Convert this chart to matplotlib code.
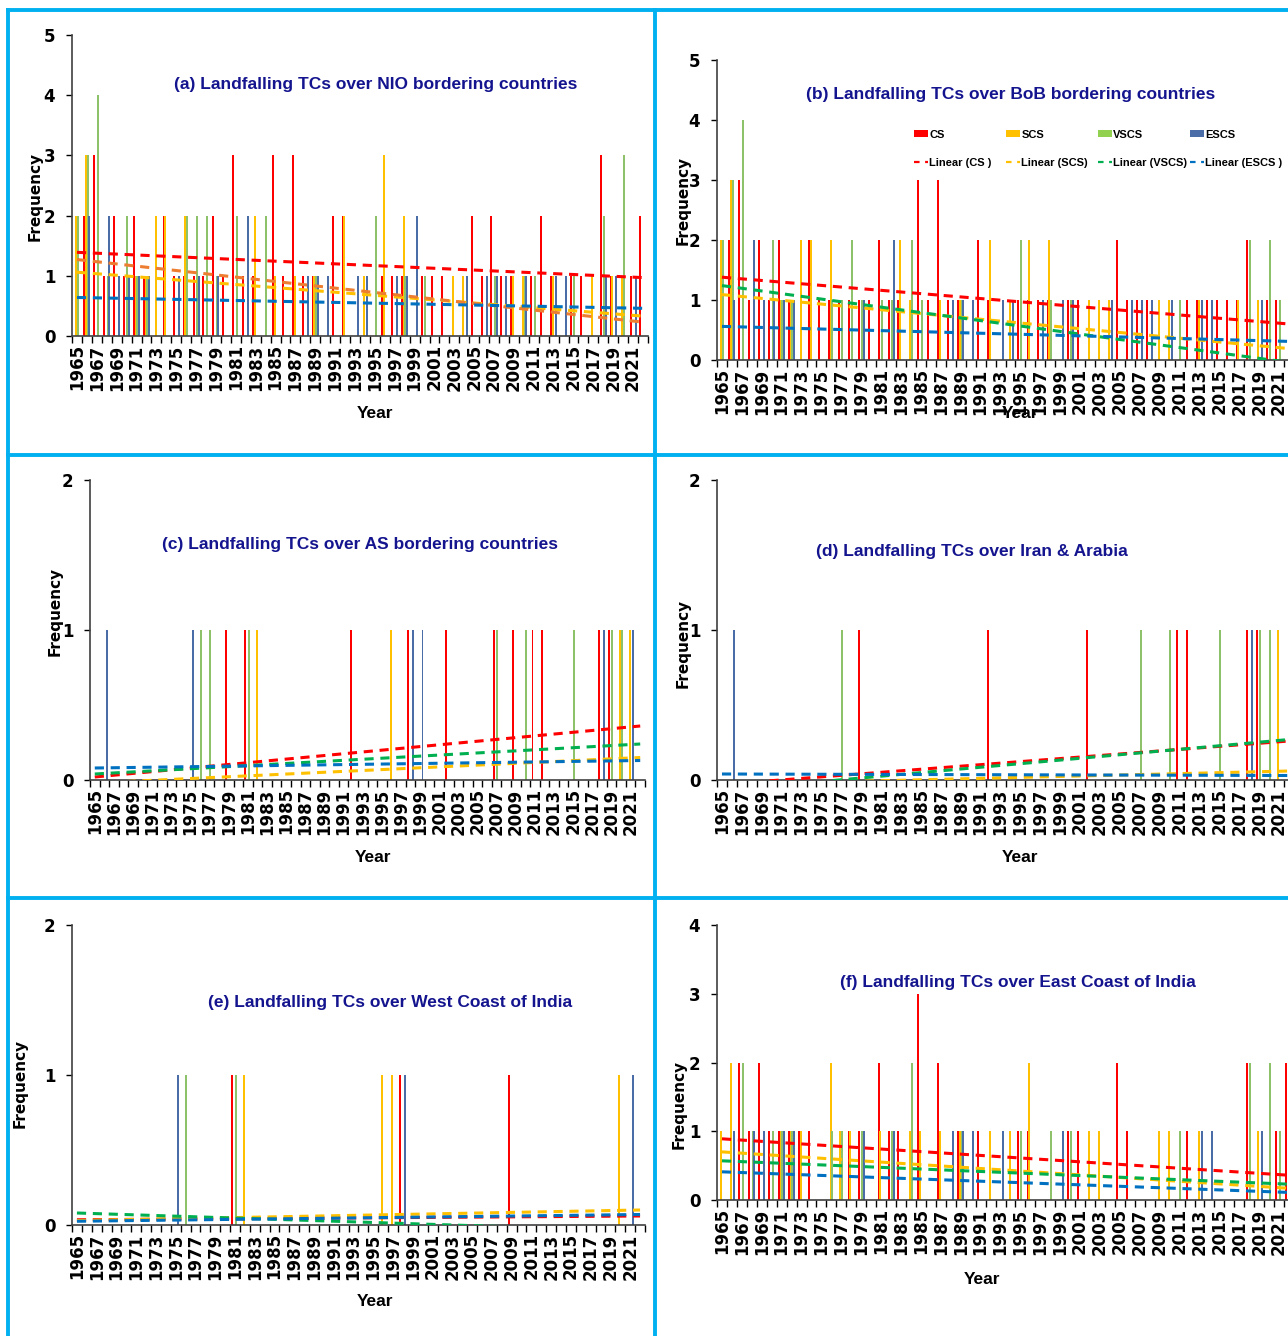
import matplotlib
matplotlib.use('Agg')
import matplotlib.pyplot as plt
from matplotlib.lines import Line2D
from matplotlib.patches import Patch

W, H = 1288, 1336

years = list(range(1965, 2023))
series = ['CS', 'SCS', 'VSCS', 'ESCS']
bar_colors = ['#FF0000', '#FFC000', '#8DC26A', '#4A6DA7']
trend_colors = ['#FF0000', '#FFC000', '#00B050', '#0070C0']

# (a) NIO bordering countries
a_cs = {1966: 2, 1967: 3, 1968: 1, 1969: 2, 1970: 1, 1971: 2, 1972: 1, 1974: 2, 1975: 1, 1976: 1,
        1977: 1, 1978: 1, 1979: 2, 1980: 1, 1981: 3, 1982: 1, 1983: 1, 1985: 3, 1986: 1, 1987: 3,
        1988: 1, 1989: 1, 1991: 2, 1992: 2, 1996: 1, 1997: 1, 1998: 1, 2000: 1, 2001: 1, 2002: 1,
        2005: 2, 2006: 1, 2007: 2, 2008: 1, 2009: 1, 2011: 1, 2012: 2, 2013: 1, 2015: 1, 2016: 1,
        2018: 3, 2019: 1, 2021: 1, 2022: 2}
a_scs = {1965: 2, 1966: 3, 1971: 1, 1972: 1, 1973: 2, 1974: 2, 1976: 2, 1983: 2, 1985: 1, 1987: 1,
         1989: 1, 1992: 2, 1994: 1, 1996: 3, 1998: 2, 2003: 1, 2004: 1, 2009: 1, 2010: 1, 2013: 1,
         2017: 1, 2019: 1, 2020: 1}
a_vscs = {1965: 2, 1966: 3, 1967: 4, 1968: 1, 1970: 2, 1971: 1, 1972: 1, 1976: 2, 1977: 2, 1978: 2,
          1979: 1, 1981: 2, 1984: 2, 1989: 1, 1995: 2, 1998: 1, 2000: 1, 2007: 1, 2010: 1, 2011: 1,
          2015: 1, 2018: 2, 2020: 3}
a_escs = {1966: 2, 1968: 2, 1969: 1, 1970: 1, 1971: 1, 1972: 1, 1975: 1, 1977: 1, 1979: 1, 1982: 2,
          1988: 1, 1989: 1, 1990: 1, 1993: 1, 1994: 1, 1997: 1, 1998: 1, 1999: 2, 2004: 1, 2006: 1,
          2007: 1, 2008: 1, 2010: 1, 2013: 1, 2014: 1, 2018: 1, 2019: 1, 2021: 1}
# trend line values at 1965 and 2022 (CS, SCS, VSCS, ESCS)
a_trend = [(1.39, 0.97), (1.06, 0.33), (1.27, 0.23), (0.64, 0.46)]

# (b) BoB bordering countries
b_cs = {1966: 2, 1967: 3, 1968: 1, 1969: 2, 1970: 1, 1971: 2, 1972: 1, 1974: 2, 1975: 1, 1976: 1,
        1977: 1, 1978: 1, 1979: 1, 1980: 1, 1981: 2, 1982: 1, 1983: 1, 1985: 3, 1986: 1, 1987: 3,
        1988: 1, 1989: 1, 1991: 2, 1992: 1, 1995: 1, 1996: 1, 1997: 1, 1998: 1, 2000: 1, 2001: 1,
        2005: 2, 2006: 1, 2007: 1, 2008: 1, 2012: 1, 2013: 1, 2014: 1, 2015: 1, 2016: 1, 2017: 1,
        2018: 2, 2020: 1, 2021: 1}
b_scs = {1965: 2, 1966: 3, 1971: 1, 1972: 1, 1973: 2, 1974: 2, 1976: 2, 1983: 2, 1984: 1, 1987: 1,
         1989: 1, 1992: 2, 1994: 1, 1996: 2, 1998: 2, 2002: 1, 2003: 1, 2004: 1, 2009: 1, 2010: 1,
         2013: 1, 2017: 1, 2019: 1}
b_vscs = {1965: 2, 1966: 3, 1967: 4, 1970: 2, 1971: 1, 1972: 1, 1976: 1, 1977: 1, 1978: 2, 1979: 1,
          1981: 1, 1982: 1, 1984: 2, 1985: 1, 1989: 1, 1995: 2, 1998: 1, 2000: 1, 2011: 1, 2018: 2,
          2020: 2, 2021: 1}
b_escs = {1966: 1, 1968: 2, 1969: 1, 1970: 1, 1971: 1, 1972: 1, 1979: 1, 1982: 2, 1988: 1, 1989: 1,
          1990: 1, 1993: 1, 1994: 1, 1997: 1, 1999: 1, 2000: 1, 2004: 1, 2006: 1, 2007: 1, 2008: 1,
          2010: 1, 2013: 1, 2014: 1, 2019: 1}
b_trend = [(1.38, 0.60), (1.09, 0.19), (1.24, -0.04), (0.56, 0.31)]

# (c) AS bordering countries
c_cs = {1979: 1, 1981: 1, 1992: 1, 1998: 1, 2002: 1, 2007: 1, 2009: 1, 2011: 1, 2012: 1, 2018: 1, 2019: 1}
c_scs = {1982: 1, 1996: 1, 2020: 1, 2021: 1}
c_vscs = {1976: 1, 1977: 1, 1981: 1, 2007: 1, 2010: 1, 2015: 1, 2019: 1, 2020: 1}
c_escs = {1966: 1, 1975: 1, 1998: 1, 1999: 1, 2018: 1, 2021: 1}
c_trend = [(0.02, 0.36), (-0.02, 0.15), (0.04, 0.24), (0.08, 0.13)]

# (d) Iran & Arabia
d_cs = {1979: 1, 1992: 1, 2002: 1, 2011: 1, 2012: 1, 2018: 1, 2019: 1}
d_scs = {2021: 1}
d_vscs = {1977: 1, 2007: 1, 2010: 1, 2015: 1, 2019: 1, 2020: 1}
d_escs = {1966: 1, 2018: 1}
d_trend = [(-0.03, 0.26), (-0.03, 0.06), (-0.07, 0.27), (0.04, 0.03)]

# (e) West Coast of India
e_cs = {1981: 1, 1998: 1, 2009: 1}
e_scs = {1982: 1, 1996: 1, 1997: 1, 2020: 1}
e_vscs = {1976: 1, 1981: 1}
e_escs = {1975: 1, 1998: 1, 2021: 1}
e_trend = [(0.035, 0.06), (0.03, 0.10), (0.08, -0.04), (0.025, 0.07)]

# (f) East Coast of India
f_cs = {1967: 2, 1968: 1, 1969: 2, 1970: 1, 1971: 1, 1972: 1, 1973: 1, 1974: 1, 1978: 1, 1979: 1,
        1981: 2, 1982: 1, 1983: 1, 1985: 3, 1987: 2, 1989: 1, 1991: 1, 1995: 1, 1996: 1, 2000: 1,
        2001: 1, 2005: 2, 2006: 1, 2012: 1, 2018: 2, 2021: 1, 2022: 2}
f_scs = {1965: 1, 1966: 2, 1971: 1, 1972: 1, 1973: 1, 1976: 2, 1977: 1, 1978: 1, 1981: 1, 1984: 1,
         1985: 1, 1987: 1, 1989: 1, 1992: 1, 1994: 1, 1996: 2, 2002: 1, 2003: 1, 2009: 1, 2010: 1,
         2013: 1, 2019: 1}
f_vscs = {1967: 2, 1968: 1, 1970: 1, 1971: 1, 1972: 1, 1976: 1, 1977: 1, 1979: 1, 1982: 1, 1984: 2,
          1989: 1, 1995: 1, 1998: 1, 2000: 1, 2011: 1, 2018: 2, 2020: 2, 2021: 1}
f_escs = {1966: 1, 1968: 1, 1969: 1, 1971: 1, 1972: 1, 1979: 1, 1982: 1, 1988: 1, 1989: 1, 1990: 1,
          1993: 1, 1999: 1, 2013: 1, 2014: 1, 2019: 1}
f_trend = [(0.89, 0.36), (0.70, 0.17), (0.57, 0.23), (0.41, 0.11)]

title_color = '#14148F'
narrow = ['Liberation Sans Narrow', 'Liberation Sans', 'DejaVu Sans']


def fx(x):
    return x / W


def fy(y):
    return 1 - y / H


def draw_panel(fig, box, data, trend, ymax, title, title_xy, ylab_xy, xlab_xy,
               tcolors=trend_colors):
    left, top, right, bottom = box
    ax = fig.add_axes([fx(left), fy(bottom), fx(right - left), (bottom - top) / H])
    n = len(years)
    offsets = [-0.26, -0.09, 0.08, 0.25]
    for k, d in enumerate(data):
        xs = [years.index(y) + offsets[k] for y in d]
        ax.bar(xs, list(d.values()), width=0.2, color=bar_colors[k], linewidth=0, zorder=2)
    for k, (s, e) in enumerate(trend):
        ax.plot([0, n - 1], [s, e], color=tcolors[k], lw=2.2, ls=(0, (3, 2.2)), zorder=3)
    ax.set_xlim(-0.5, n - 0.5)
    ax.set_ylim(0, ymax)
    ax.set_yticks(range(0, ymax + 1))
    ax.set_yticklabels([str(v) for v in range(0, ymax + 1)], fontsize=12, fontweight='bold')
    ax.set_xticks([i + 0.5 for i in range(-1, n)], minor=True)
    ax.set_xticks(range(0, n, 2))
    ax.set_xticklabels([str(y) for y in years[::2]], rotation=90, fontsize=12,
                       fontweight='bold')
    ax.tick_params(axis='x', which='major', length=0, pad=6)
    ax.tick_params(axis='x', which='minor', length=5, width=1, direction='out')
    ax.tick_params(axis='y', length=4, width=1, pad=8)
    for sp in ['top', 'right']:
        ax.spines[sp].set_visible(False)
    for sp in ['left', 'bottom']:
        ax.spines[sp].set_linewidth(1.2)
        ax.spines[sp].set_color('#404040')
    ax.patch.set_alpha(0)
    fig.text(fx(title_xy[0]), fy(title_xy[1]), title, ha='center', va='center',
             fontsize=12.5, fontweight='bold', color=title_color, family=narrow)
    fig.text(fx(ylab_xy[0]), fy(ylab_xy[1]), 'Frequency', rotation=90, ha='center',
             va='center', fontsize=11, fontweight='bold')
    fig.text(fx(xlab_xy[0]), fy(xlab_xy[1]), 'Year', ha='center', va='center',
             fontsize=12.5, fontweight='bold', family=narrow)
    return ax


fig = plt.figure(figsize=(W / 100, H / 100), dpi=100)

draw_panel(fig, (72, 35, 648, 336), [a_cs, a_scs, a_vscs, a_escs], a_trend, 5,
           '(a) Landfalling TCs over NIO bordering countries', (376, 85), (35, 196), (375, 414),
           tcolors=['#FF0000', '#FFC000', '#ED7D31', '#0070C0'])
draw_panel(fig, (717, 60, 1294, 360), [b_cs, b_scs, b_vscs, b_escs], b_trend, 5,
           '(b) Landfalling TCs over BoB bordering countries', (1011, 94), (683, 200), (1020, 414))
draw_panel(fig, (90, 480, 645, 780), [c_cs, c_scs, c_vscs, c_escs], c_trend, 2,
           '(c) Landfalling TCs over AS bordering countries', (360, 545), (55, 611), (373, 858))
draw_panel(fig, (717, 480, 1294, 780), [d_cs, d_scs, d_vscs, d_escs], d_trend, 2,
           '(d) Landfalling TCs over Iran & Arabia', (972, 551), (683, 643), (1020, 858))
draw_panel(fig, (72, 925, 645, 1225), [e_cs, e_scs, e_vscs, e_escs], e_trend, 2,
           '(e) Landfalling TCs over West Coast of India', (390, 1003), (20, 1083), (375, 1302))
draw_panel(fig, (717, 925, 1294, 1200), [f_cs, f_scs, f_vscs, f_escs], f_trend, 4,
           '(f) Landfalling TCs over East Coast of India', (1018, 983), (679, 1104), (982, 1280))

# legend of panel (b): one small legend per column so the columns sit evenly apart
lin_labels = ['Linear (CS )', 'Linear (SCS)', 'Linear (VSCS)', 'Linear (ESCS )']
for k, s in enumerate(series):
    h = [Patch(facecolor=bar_colors[k] if k != 2 else '#92D050', edgecolor='none'),
         Line2D([], [], color=trend_colors[k], lw=1.6, ls=(0, (2.5, 2.5)))]
    fig.legend(h, [s, lin_labels[k]], loc='upper left',
               bbox_to_anchor=(fx(906 + 92 * k), fy(122)), frameon=False,
               prop={'family': narrow, 'weight': 'bold', 'size': 8},
               handlelength=1.3, handleheight=0.6, handletextpad=0.1, labelspacing=1.6,
               borderpad=0.2)

# panel frame lines
border = '#00B0F0'
for (x0, y0, x1, y1) in [(8, 10, 1288, 10), (8, 10, 8, 1336), (655, 10, 655, 1336),
                         (8, 455, 1288, 455), (8, 898, 1288, 898)]:
    fig.add_artist(Line2D([fx(x0), fx(x1)], [fy(y0), fy(y1)], color=border, lw=2.8))

fig.savefig('out.png', dpi=100)
